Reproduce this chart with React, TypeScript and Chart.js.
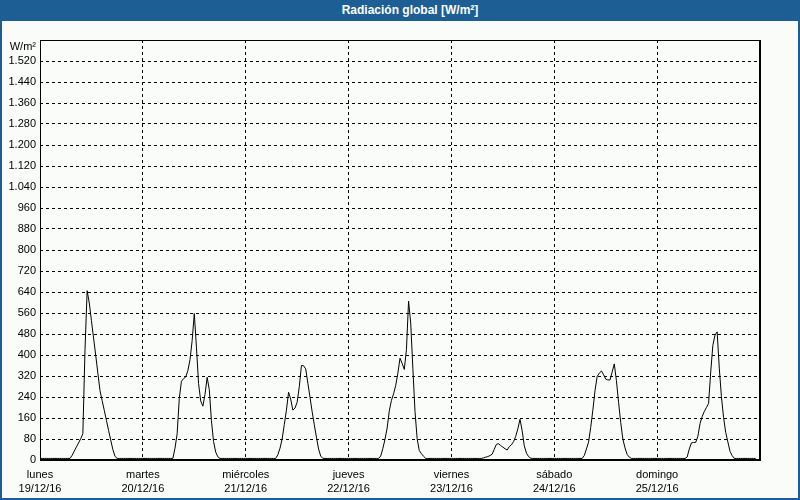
import React, { useEffect, useRef } from 'react';
import { Chart, registerables } from 'chart.js';

Chart.register(...registerables);

const TITLE = 'Radiación global [W/m²]';
const UNIT = 'W/m²';
const DAY_NAMES = ['lunes', 'martes', 'miércoles', 'jueves', 'viernes', 'sábado', 'domingo'];
const DAY_DATES = ['19/12/16', '20/12/16', '21/12/16', '22/12/16', '23/12/16', '24/12/16', '25/12/16'];
const Y_MAX = 1600;
const Y_STEP = 80;
const HOURS_PER_DAY = 24;
const STEP_HOURS = 0.5;

// half-hourly global radiation (W/m²), one array per day, from 00:00
const lunes = [
  6, 6, 6, 6, 6, 6, 6, 6, 6, 6, 6, 6, 6, 6, 6,
  18, 34, 50, 65, 81, 100, 420, 645, 598, 531, 465, 399, 331, 264, 226, 189, 151, 113, 76, 40, 14,
  6, 6, 6, 6, 6, 6, 6, 6, 6, 6, 6, 6,
];
const martes = [
  6, 6, 6, 6, 6, 6, 6, 6, 6, 6, 6, 6, 6, 6, 6,
  45, 100, 235, 300, 310, 316, 340, 382, 455, 558, 430, 291, 225, 205, 250, 315, 268, 150, 70, 30, 12,
  6, 6, 6, 6, 6, 6, 6, 6, 6, 6, 6, 6,
];
const miercoles = [
  6, 6, 6, 6, 6, 6, 6, 6, 6, 6, 6, 6, 6, 6, 6,
  20, 45, 80, 135, 190, 258, 232, 190, 198, 220, 279, 360, 359, 347, 293, 239, 184, 134, 87, 42, 15,
  6, 6, 6, 6, 6, 6, 6, 6, 6, 6, 6, 6,
];
const jueves = [
  6, 6, 6, 6, 6, 6, 6, 6, 6, 6, 6, 6, 6, 6, 6,
  15, 44, 79, 122, 187, 227, 252, 284, 330, 388, 368, 345, 420, 605, 522, 350, 185, 81, 36, 24, 14,
  6, 6, 6, 6, 6, 6, 6, 6, 6, 6, 6, 6,
];
const viernes = [
  6, 6, 6, 6, 6, 6, 6, 6, 6, 6, 6, 6, 6, 6, 6,
  8, 11, 13, 17, 22, 41, 60, 62, 55, 49, 43, 38, 51, 58, 70, 90, 119, 155, 112, 54, 26, 13, 7,
  6, 6, 6, 6, 6, 6, 6, 6, 6, 6,
];
const sabado = [
  6, 6, 6, 6, 6, 6, 6, 6, 6, 6, 6, 6, 6, 6,
  17, 42, 68, 124, 190, 264, 318, 331, 339, 325, 308, 305, 305, 335, 366, 302, 220, 143, 80, 46, 21, 11,
  6, 6, 6, 6, 6, 6, 6, 6, 6, 6, 6, 6,
];
const domingo = [
  6, 6, 6, 6, 6, 6, 6, 6, 6, 6, 6, 6, 6, 6,
  11, 42, 65, 67, 67, 90, 138, 165, 185, 200, 215, 335, 437, 476, 488, 350, 241, 162, 105, 69, 33, 17,
  6, 6, 6, 6, 6, 6, 6, 6, 6, 6, 6,
];
const DAYS = [lunes, martes, miercoles, jueves, viernes, sabado, domingo];

const FONT = '"Liberation Sans", Arial, sans-serif';

function fmt(v: number): string {
  return String(v).replace(/\B(?=(\d{3})+(?!\d))/g, '.');
}

export default function App() {
  const ref = useRef<HTMLCanvasElement | null>(null);

  useEffect(() => {
    if (!ref.current) return;
    const points = DAYS.flatMap((arr, d) =>
      arr.map((v, i) => ({ x: d * HOURS_PER_DAY + i * STEP_HOURS, y: v }))
    );
    const xMax = DAYS.length * HOURS_PER_DAY;

    const framePlugin = {
      id: 'frame',
      afterDraw(chart: any) {
        const { ctx, chartArea } = chart;
        const { left, top, right, bottom } = chartArea;
        ctx.save();
        ctx.setLineDash([]);
        ctx.fillStyle = '#000';
        ctx.fillRect(left, top, right - left, 1); // top
        ctx.fillRect(left, top, 1, bottom - top); // left
        ctx.fillRect(right - 1, top, 2, bottom - top + 1); // right
        ctx.fillRect(left, bottom - 1, right - left + 1, 2); // bottom
        ctx.font = '11px ' + FONT;
        ctx.textAlign = 'right';
        ctx.textBaseline = 'middle';
        ctx.fillText(UNIT, left - 4, top + 6.5);
        ctx.restore();
      },
    };

    const chart = new Chart(ref.current, {
      type: 'line',
      data: {
        datasets: [
          {
            data: points,
            borderColor: '#000',
            borderWidth: 1,
            pointRadius: 0,
            tension: 0,
            fill: false,
          },
        ],
      },
      options: {
        responsive: false,
        animation: false,
        layout: { padding: { top: 40, right: 40, left: 0, bottom: 0 } },
        plugins: {
          legend: { display: false },
          tooltip: { enabled: false },
          title: { display: false },
        },
        scales: {
          x: {
            type: 'linear',
            min: 0,
            max: xMax,
            afterFit: (s: any) => {
              s.height = 40;
            },
            ticks: {
              stepSize: HOURS_PER_DAY,
              autoSkip: false,
              maxRotation: 0,
              padding: 8,
              color: '#000',
              font: { family: FONT, size: 11, lineHeight: 1.27 },
              callback: (v: any) => {
                const i = Math.round(Number(v) / HOURS_PER_DAY);
                return i < DAY_NAMES.length ? [DAY_NAMES[i], DAY_DATES[i]] : '';
              },
            },
            grid: {
              color: (c: any) =>
                c.tick && (c.tick.value === 0 || c.tick.value === xMax) ? 'rgba(0,0,0,0)' : '#000',
              lineWidth: 1,
              drawTicks: false,
            },
            border: { display: false, dash: [3, 3] },
          },
          y: {
            min: 0,
            max: Y_MAX,
            afterFit: (s: any) => {
              s.width = 40;
            },
            ticks: {
              stepSize: Y_STEP,
              autoSkip: false,
              padding: 4,
              color: '#000',
              font: { family: FONT, size: 11 },
              callback: (v: any) => (Number(v) >= Y_MAX ? '' : fmt(Number(v))),
            },
            grid: {
              color: (c: any) =>
                c.tick && (c.tick.value === 0 || c.tick.value === Y_MAX) ? 'rgba(0,0,0,0)' : '#000',
              lineWidth: 1,
              drawTicks: false,
            },
            border: { display: false, dash: [3, 3] },
          },
        },
      },
      plugins: [framePlugin],
    } as any);

    return () => chart.destroy();
  }, []);

  return (
    <div
      style={{
        position: 'fixed',
        left: 0,
        top: 0,
        width: 800,
        height: 500,
        background: '#f9fcf9',
        overflow: 'hidden',
      }}
    >
      <canvas ref={ref} width={800} height={500} style={{ position: 'absolute', left: 0, top: 0 }} />
      <div
        style={{
          position: 'absolute',
          left: 0,
          top: 0,
          width: 800,
          height: 21,
          background: '#1d5e95',
          color: '#fff',
          font: 'bold 12px ' + FONT,
          lineHeight: '21px',
          textAlign: 'center',
          boxSizing: 'border-box',
          paddingLeft: 20,
        }}
      >
        {TITLE}
      </div>
      <div
        style={{
          position: 'absolute',
          left: 0,
          top: 0,
          width: 800,
          height: 500,
          boxSizing: 'border-box',
          borderLeft: '2px solid #1d5e95',
          borderRight: '2px solid #1d5e95',
          borderBottom: '2px solid #1d5e95',
          pointerEvents: 'none',
        }}
      />
    </div>
  );
}
